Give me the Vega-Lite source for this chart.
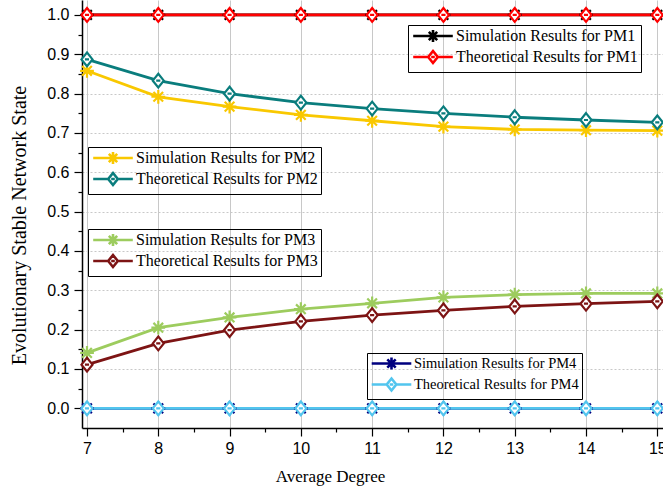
{
  "$schema": "https://vega.github.io/schema/vega-lite/v6.json",
  "width": 581,
  "height": 428,
  "autosize": {"type": "none"},
  "padding": {"left": 82, "top": 0, "right": 0, "bottom": 61},
  "background": "white",
  "config": {
    "view": {"stroke": null},
    "axis": {
      "domainColor": "black",
      "domainWidth": 1.5,
      "tickColor": "black",
      "tickWidth": 1.2,
      "labelFont": "Liberation Sans",
      "labelFontSize": 16,
      "labelColor": "black",
      "titleFont": "Liberation Serif",
      "titleFontSize": 18,
      "titleFontWeight": "normal",
      "titleColor": "black",
      "gridColor": "#c8c8c8",
      "gridWidth": 1
    },
    "legend": {
      "orient": "none",
      "title": null,
      "labelColor": "black",
      "labelLimit": 400,
      "strokeColor": "black",
      "padding": 3,
      "symbolStrokeWidth": 2.6,
      "symbolSize": 144,
      "symbolOpacity": 1,
      "symbolFillColor": "white",
      "symbolOffset": 14,
      "labelOffset": 15
    }
  },
  "data": {
    "values": [
      {"d": 7, "v": 1, "s": "Simulation Results for PM1", "g": "PM1"},
      {"d": 8, "v": 1, "s": "Simulation Results for PM1", "g": "PM1"},
      {"d": 9, "v": 1, "s": "Simulation Results for PM1", "g": "PM1"},
      {"d": 10, "v": 1, "s": "Simulation Results for PM1", "g": "PM1"},
      {"d": 11, "v": 1, "s": "Simulation Results for PM1", "g": "PM1"},
      {"d": 12, "v": 1, "s": "Simulation Results for PM1", "g": "PM1"},
      {"d": 13, "v": 1, "s": "Simulation Results for PM1", "g": "PM1"},
      {"d": 14, "v": 1, "s": "Simulation Results for PM1", "g": "PM1"},
      {"d": 15, "v": 1, "s": "Simulation Results for PM1", "g": "PM1"},
      {"d": 7, "v": 1, "s": "Theoretical Results for PM1", "g": "PM1"},
      {"d": 8, "v": 1, "s": "Theoretical Results for PM1", "g": "PM1"},
      {"d": 9, "v": 1, "s": "Theoretical Results for PM1", "g": "PM1"},
      {"d": 10, "v": 1, "s": "Theoretical Results for PM1", "g": "PM1"},
      {"d": 11, "v": 1, "s": "Theoretical Results for PM1", "g": "PM1"},
      {"d": 12, "v": 1, "s": "Theoretical Results for PM1", "g": "PM1"},
      {"d": 13, "v": 1, "s": "Theoretical Results for PM1", "g": "PM1"},
      {"d": 14, "v": 1, "s": "Theoretical Results for PM1", "g": "PM1"},
      {"d": 15, "v": 1, "s": "Theoretical Results for PM1", "g": "PM1"},
      {"d": 7, "v": 0.858, "s": "Simulation Results for PM2", "g": "PM2"},
      {"d": 8, "v": 0.792, "s": "Simulation Results for PM2", "g": "PM2"},
      {"d": 9, "v": 0.767, "s": "Simulation Results for PM2", "g": "PM2"},
      {"d": 10, "v": 0.746, "s": "Simulation Results for PM2", "g": "PM2"},
      {"d": 11, "v": 0.731, "s": "Simulation Results for PM2", "g": "PM2"},
      {"d": 12, "v": 0.716, "s": "Simulation Results for PM2", "g": "PM2"},
      {"d": 13, "v": 0.709, "s": "Simulation Results for PM2", "g": "PM2"},
      {"d": 14, "v": 0.707, "s": "Simulation Results for PM2", "g": "PM2"},
      {"d": 15, "v": 0.706, "s": "Simulation Results for PM2", "g": "PM2"},
      {"d": 7, "v": 0.887, "s": "Theoretical Results for PM2", "g": "PM2"},
      {"d": 8, "v": 0.833, "s": "Theoretical Results for PM2", "g": "PM2"},
      {"d": 9, "v": 0.8, "s": "Theoretical Results for PM2", "g": "PM2"},
      {"d": 10, "v": 0.777, "s": "Theoretical Results for PM2", "g": "PM2"},
      {"d": 11, "v": 0.762, "s": "Theoretical Results for PM2", "g": "PM2"},
      {"d": 12, "v": 0.75, "s": "Theoretical Results for PM2", "g": "PM2"},
      {"d": 13, "v": 0.74, "s": "Theoretical Results for PM2", "g": "PM2"},
      {"d": 14, "v": 0.733, "s": "Theoretical Results for PM2", "g": "PM2"},
      {"d": 15, "v": 0.727, "s": "Theoretical Results for PM2", "g": "PM2"},
      {"d": 7, "v": 0.141, "s": "Simulation Results for PM3", "g": "PM3"},
      {"d": 8, "v": 0.205, "s": "Simulation Results for PM3", "g": "PM3"},
      {"d": 9, "v": 0.231, "s": "Simulation Results for PM3", "g": "PM3"},
      {"d": 10, "v": 0.252, "s": "Simulation Results for PM3", "g": "PM3"},
      {"d": 11, "v": 0.267, "s": "Simulation Results for PM3", "g": "PM3"},
      {"d": 12, "v": 0.282, "s": "Simulation Results for PM3", "g": "PM3"},
      {"d": 13, "v": 0.289, "s": "Simulation Results for PM3", "g": "PM3"},
      {"d": 14, "v": 0.292, "s": "Simulation Results for PM3", "g": "PM3"},
      {"d": 15, "v": 0.292, "s": "Simulation Results for PM3", "g": "PM3"},
      {"d": 7, "v": 0.111, "s": "Theoretical Results for PM3", "g": "PM3"},
      {"d": 8, "v": 0.165, "s": "Theoretical Results for PM3", "g": "PM3"},
      {"d": 9, "v": 0.199, "s": "Theoretical Results for PM3", "g": "PM3"},
      {"d": 10, "v": 0.221, "s": "Theoretical Results for PM3", "g": "PM3"},
      {"d": 11, "v": 0.237, "s": "Theoretical Results for PM3", "g": "PM3"},
      {"d": 12, "v": 0.249, "s": "Theoretical Results for PM3", "g": "PM3"},
      {"d": 13, "v": 0.259, "s": "Theoretical Results for PM3", "g": "PM3"},
      {"d": 14, "v": 0.266, "s": "Theoretical Results for PM3", "g": "PM3"},
      {"d": 15, "v": 0.272, "s": "Theoretical Results for PM3", "g": "PM3"},
      {"d": 7, "v": 0, "s": "Simulation Results for PM4", "g": "PM4"},
      {"d": 8, "v": 0, "s": "Simulation Results for PM4", "g": "PM4"},
      {"d": 9, "v": 0, "s": "Simulation Results for PM4", "g": "PM4"},
      {"d": 10, "v": 0, "s": "Simulation Results for PM4", "g": "PM4"},
      {"d": 11, "v": 0, "s": "Simulation Results for PM4", "g": "PM4"},
      {"d": 12, "v": 0, "s": "Simulation Results for PM4", "g": "PM4"},
      {"d": 13, "v": 0, "s": "Simulation Results for PM4", "g": "PM4"},
      {"d": 14, "v": 0, "s": "Simulation Results for PM4", "g": "PM4"},
      {"d": 15, "v": 0, "s": "Simulation Results for PM4", "g": "PM4"},
      {"d": 7, "v": 0, "s": "Theoretical Results for PM4", "g": "PM4"},
      {"d": 8, "v": 0, "s": "Theoretical Results for PM4", "g": "PM4"},
      {"d": 9, "v": 0, "s": "Theoretical Results for PM4", "g": "PM4"},
      {"d": 10, "v": 0, "s": "Theoretical Results for PM4", "g": "PM4"},
      {"d": 11, "v": 0, "s": "Theoretical Results for PM4", "g": "PM4"},
      {"d": 12, "v": 0, "s": "Theoretical Results for PM4", "g": "PM4"},
      {"d": 13, "v": 0, "s": "Theoretical Results for PM4", "g": "PM4"},
      {"d": 14, "v": 0, "s": "Theoretical Results for PM4", "g": "PM4"},
      {"d": 15, "v": 0, "s": "Theoretical Results for PM4", "g": "PM4"}
    ]
  },
  "encoding": {
    "x": {
      "field": "d",
      "type": "quantitative",
      "title": "Average Degree",
      "scale": {"domain": [6.93, 15.08], "nice": false, "zero": false},
      "axis": {
        "values": [7, 7.5, 8, 8.5, 9, 9.5, 10, 10.5, 11, 11.5, 12, 12.5, 13, 13.5, 14, 14.5, 15],
        "labelExpr": "datum.value % 1 == 0 ? format(datum.value, 'd') : ''",
        "tickSize": {"condition": {"test": "datum.value % 1 == 0", "value": 8}, "value": 4},
        "gridOpacity": {"condition": {"test": "datum.value % 1 == 0", "value": 1}, "value": 0},
        "labelPadding": 4,
        "titleFontSize": 17,
        "titlePadding": 12,
        "titleX": 248,
        "labelFlush": false
      }
    },
    "y": {
      "field": "v",
      "type": "quantitative",
      "title": "Evolutionary Stable Network State",
      "scale": {"domain": [-0.05, 1.038], "nice": false, "zero": false},
      "axis": {
        "values": [0, 0.05, 0.1, 0.15, 0.2, 0.25, 0.3, 0.35, 0.4, 0.45, 0.5, 0.55, 0.6, 0.65, 0.7, 0.75, 0.8, 0.85, 0.9, 0.95, 1.0],
        "labelExpr": "round(datum.value * 20) % 2 == 0 ? format(datum.value, '.1f') : ''",
        "tickSize": {"condition": {"test": "round(datum.value * 20) % 2 == 0", "value": 8}, "value": 4},
        "gridOpacity": {"condition": {"test": "round(datum.value * 20) % 2 == 0", "value": 1}, "value": 0},
        "gridDash": [2, 2],
        "labelPadding": 5,
        "titleFontSize": 20,
        "titlePadding": 17,
        "titleY": 225,
        "labelFlush": false
      }
    }
  },
  "resolve": {
    "scale": {"color": "independent", "shape": "independent"},
    "legend": {"color": "independent", "shape": "independent"}
  },
  "layer": [
    {
      "mark": {"type": "line", "strokeWidth": 2.8},
      "encoding": {
        "color": {
          "field": "s",
          "type": "nominal",
          "legend": null,
          "scale": {
            "domain": ["Simulation Results for PM1", "Theoretical Results for PM1", "Simulation Results for PM2", "Theoretical Results for PM2", "Simulation Results for PM3", "Theoretical Results for PM3", "Simulation Results for PM4", "Theoretical Results for PM4"],
            "range": ["#000000", "#ff0000", "#f9c800", "#0a7d7d", "#9dcc5e", "#7d1414", "#00007f", "#52c5ee"]
          }
        }
      }
    },
    {
      "mark": {"type": "point", "filled": false, "fill": "white", "strokeWidth": 2.2, "size": 190, "opacity": 1},
      "encoding": {
        "color": {
          "field": "s",
          "type": "nominal",
          "legend": null,
          "scale": {
            "domain": ["Simulation Results for PM1", "Theoretical Results for PM1", "Simulation Results for PM2", "Theoretical Results for PM2", "Simulation Results for PM3", "Theoretical Results for PM3", "Simulation Results for PM4", "Theoretical Results for PM4"],
            "range": ["#000000", "#ff0000", "#f9c800", "#0a7d7d", "#9dcc5e", "#7d1414", "#00007f", "#52c5ee"]
          }
        },
        "shape": {
          "field": "s",
          "type": "nominal",
          "legend": null,
          "scale": {
            "domain": ["Simulation Results for PM1", "Theoretical Results for PM1", "Simulation Results for PM2", "Theoretical Results for PM2", "Simulation Results for PM3", "Theoretical Results for PM3", "Simulation Results for PM4", "Theoretical Results for PM4"],
            "range": [
              "M-1,0H1M0,-1V1M-0.7,-0.7L0.7,0.7M-0.7,0.7L0.7,-0.7",
              "M0,-1L0.8,0L0,1L-0.8,0ZM-0.3,0H0.3",
              "M-1,0H1M0,-1V1M-0.7,-0.7L0.7,0.7M-0.7,0.7L0.7,-0.7",
              "M0,-1L0.8,0L0,1L-0.8,0ZM-0.3,0H0.3",
              "M-1,0H1M0,-1V1M-0.7,-0.7L0.7,0.7M-0.7,0.7L0.7,-0.7",
              "M0,-1L0.8,0L0,1L-0.8,0ZM-0.3,0H0.3",
              "M-1,0H1M0,-1V1M-0.7,-0.7L0.7,0.7M-0.7,0.7L0.7,-0.7",
              "M0,-1L0.8,0L0,1L-0.8,0ZM-0.3,0H0.3"
            ]
          }
        }
      }
    },
    {
      "transform": [{"filter": "datum.g == 'PM1'"}],
      "mark": {"type": "point", "filled": false, "opacity": 0},
      "encoding": {
        "color": {"field": "s", "type": "nominal", "scale": {"domain": ["Simulation Results for PM1", "Theoretical Results for PM1"], "range": ["#000000", "#ff0000"]}, "legend": {"legendX": 326, "legendY": 25, "labelFont": "Liberation Serif", "labelFontSize": 16, "rowPadding": -3}},
        "shape": {"field": "s", "type": "nominal", "scale": {"domain": ["Simulation Results for PM1", "Theoretical Results for PM1"], "range": ["M-3.3,0H3.3M0,-1V1M-0.7,-0.7L0.7,0.7M-0.7,0.7L0.7,-0.7", "M-3.3,0H-0.8M0.8,0H3.3M0,-1L0.8,0L0,1L-0.8,0ZM-0.3,0H0.3"]}, "legend": {"legendX": 326, "legendY": 25, "labelFont": "Liberation Serif", "labelFontSize": 16, "rowPadding": -3}}
      }
    },
    {
      "transform": [{"filter": "datum.g == 'PM2'"}],
      "mark": {"type": "point", "filled": false, "opacity": 0},
      "encoding": {
        "color": {"field": "s", "type": "nominal", "scale": {"domain": ["Simulation Results for PM2", "Theoretical Results for PM2"], "range": ["#f9c800", "#0a7d7d"]}, "legend": {"legendX": 6, "legendY": 147, "labelFont": "Liberation Serif", "labelFontSize": 16, "rowPadding": -3}},
        "shape": {"field": "s", "type": "nominal", "scale": {"domain": ["Simulation Results for PM2", "Theoretical Results for PM2"], "range": ["M-3.3,0H3.3M0,-1V1M-0.7,-0.7L0.7,0.7M-0.7,0.7L0.7,-0.7", "M-3.3,0H-0.8M0.8,0H3.3M0,-1L0.8,0L0,1L-0.8,0ZM-0.3,0H0.3"]}, "legend": {"legendX": 6, "legendY": 147, "labelFont": "Liberation Serif", "labelFontSize": 16, "rowPadding": -3}}
      }
    },
    {
      "transform": [{"filter": "datum.g == 'PM3'"}],
      "mark": {"type": "point", "filled": false, "opacity": 0},
      "encoding": {
        "color": {"field": "s", "type": "nominal", "scale": {"domain": ["Simulation Results for PM3", "Theoretical Results for PM3"], "range": ["#9dcc5e", "#7d1414"]}, "legend": {"legendX": 6, "legendY": 229, "labelFont": "Liberation Serif", "labelFontSize": 16, "rowPadding": -3}},
        "shape": {"field": "s", "type": "nominal", "scale": {"domain": ["Simulation Results for PM3", "Theoretical Results for PM3"], "range": ["M-3.3,0H3.3M0,-1V1M-0.7,-0.7L0.7,0.7M-0.7,0.7L0.7,-0.7", "M-3.3,0H-0.8M0.8,0H3.3M0,-1L0.8,0L0,1L-0.8,0ZM-0.3,0H0.3"]}, "legend": {"legendX": 6, "legendY": 229, "labelFont": "Liberation Serif", "labelFontSize": 16, "rowPadding": -3}}
      }
    },
    {
      "transform": [{"filter": "datum.g == 'PM4'"}],
      "mark": {"type": "point", "filled": false, "opacity": 0},
      "encoding": {
        "color": {"field": "s", "type": "nominal", "scale": {"domain": ["Simulation Results for PM4", "Theoretical Results for PM4"], "range": ["#00007f", "#52c5ee"]}, "legend": {"legendX": 285, "legendY": 353, "labelFont": "Liberation Serif", "labelFontSize": 14.5, "rowPadding": -2}},
        "shape": {"field": "s", "type": "nominal", "scale": {"domain": ["Simulation Results for PM4", "Theoretical Results for PM4"], "range": ["M-3.3,0H3.3M0,-1V1M-0.7,-0.7L0.7,0.7M-0.7,0.7L0.7,-0.7", "M-3.3,0H-0.8M0.8,0H3.3M0,-1L0.8,0L0,1L-0.8,0ZM-0.3,0H0.3"]}, "legend": {"legendX": 285, "legendY": 353, "labelFont": "Liberation Serif", "labelFontSize": 14.5, "rowPadding": -2}}
      }
    }
  ]
}
